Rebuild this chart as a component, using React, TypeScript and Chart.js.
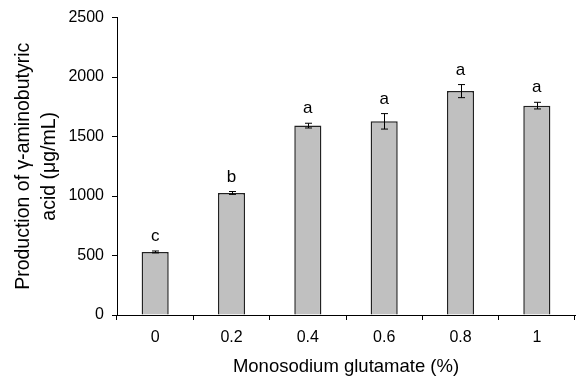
import React, { useEffect, useRef } from "react";
import { Chart, registerables } from "chart.js";

Chart.register(...registerables);

const categories = ["0", "0.2", "0.4", "0.6", "0.8", "1"];
const gabaValues = [530, 1026, 1592, 1628, 1882, 1760];
const gabaErrors = [8, 12, 20, 65, 55, 28];
const sigLetters = ["c", "b", "a", "a", "a", "a"];
const yTicks = [0, 500, 1000, 1500, 2000, 2500];

const FONT = "'Liberation Sans', Arial, sans-serif";

const errorBarPlugin = {
  id: "errorBars",
  afterDatasetsDraw(chart: any) {
    const { ctx } = chart;
    const meta = chart.getDatasetMeta(0);
    const yScale = chart.scales.y;
    ctx.save();
    ctx.strokeStyle = "#000";
    ctx.lineWidth = 1;
    meta.data.forEach((bar: any, i: number) => {
      const x = Math.round(bar.x) + 0.5;
      const yHi = yScale.getPixelForValue(gabaValues[i] + gabaErrors[i]);
      const yLo = yScale.getPixelForValue(gabaValues[i] - gabaErrors[i]);
      const cap = 3.5;
      ctx.beginPath();
      ctx.moveTo(x, yHi);
      ctx.lineTo(x, yLo);
      ctx.moveTo(x - cap, yHi);
      ctx.lineTo(x + cap, yHi);
      ctx.moveTo(x - cap, yLo);
      ctx.lineTo(x + cap, yLo);
      ctx.stroke();
      ctx.fillStyle = "#000";
      ctx.font = `17px ${FONT}`;
      ctx.textAlign = "center";
      ctx.textBaseline = "alphabetic";
      ctx.fillText(sigLetters[i], bar.x, yHi - 10);
    });
    ctx.restore();
  },
};

export default function App() {
  const ref = useRef<HTMLCanvasElement | null>(null);
  useEffect(() => {
    document.body.style.margin = "0";
    const canvas = ref.current!;
    const chart = new Chart(canvas, {
      type: "bar",
      data: {
        labels: categories,
        datasets: [
          {
            data: gabaValues,
            backgroundColor: "#c0c0c0",
            borderColor: "#222",
            borderWidth: 1.5,
            barPercentage: 0.355,
            categoryPercentage: 1,
          },
        ],
      },
      options: {
        responsive: false,
        animation: false,
        devicePixelRatio: 1,
        layout: { padding: { top: 17, right: 1, left: 0, bottom: 0 } },
        plugins: {
          legend: { display: false },
          tooltip: { enabled: false },
        },
        scales: {
          x: {
            offset: true,
            grid: {
              offset: true,
              drawOnChartArea: false,
              drawTicks: true,
              tickLength: 5,
              color: "#000",
            },
            border: { display: true, color: "#000", width: 1 },
            ticks: {
              color: "#000",
              font: { family: FONT, size: 16 },
              padding: 8,
            },
            title: {
              display: true,
              text: "Monosodium glutamate (%)",
              color: "#000",
              font: { family: FONT, size: 18.5 },
              padding: { top: 0, bottom: 2 },
            },
            afterFit(scale: any) {
              scale.height = 65;
            },
          },
          y: {
            min: 0,
            max: 2500,
            afterBuildTicks(scale: any) {
              scale.ticks = yTicks.map((v) => ({ value: v }));
            },
            grid: {
              drawOnChartArea: false,
              drawTicks: true,
              tickLength: 5,
              color: "#000",
            },
            border: { display: true, color: "#000", width: 1 },
            ticks: {
              color: "#000",
              font: { family: FONT, size: 16 },
              padding: 8,
              callback: (v: any) => String(v),
            },
            title: {
              display: true,
              text: ["Production of γ-aminobutyric", "acid (μg/mL)"],
              color: "#000",
              font: { family: FONT, size: 19.5, lineHeight: 1.33 },
              padding: { top: 11, bottom: 0 },
            },
            afterFit(scale: any) {
              scale.width = 117;
            },
          },
        },
      },
      plugins: [errorBarPlugin],
    });
    return () => chart.destroy();
  }, []);
  return (
    <div style={{ width: 576, height: 380 }}>
      <canvas ref={ref} width={576} height={380} style={{ display: "block" }} />
    </div>
  );
}
